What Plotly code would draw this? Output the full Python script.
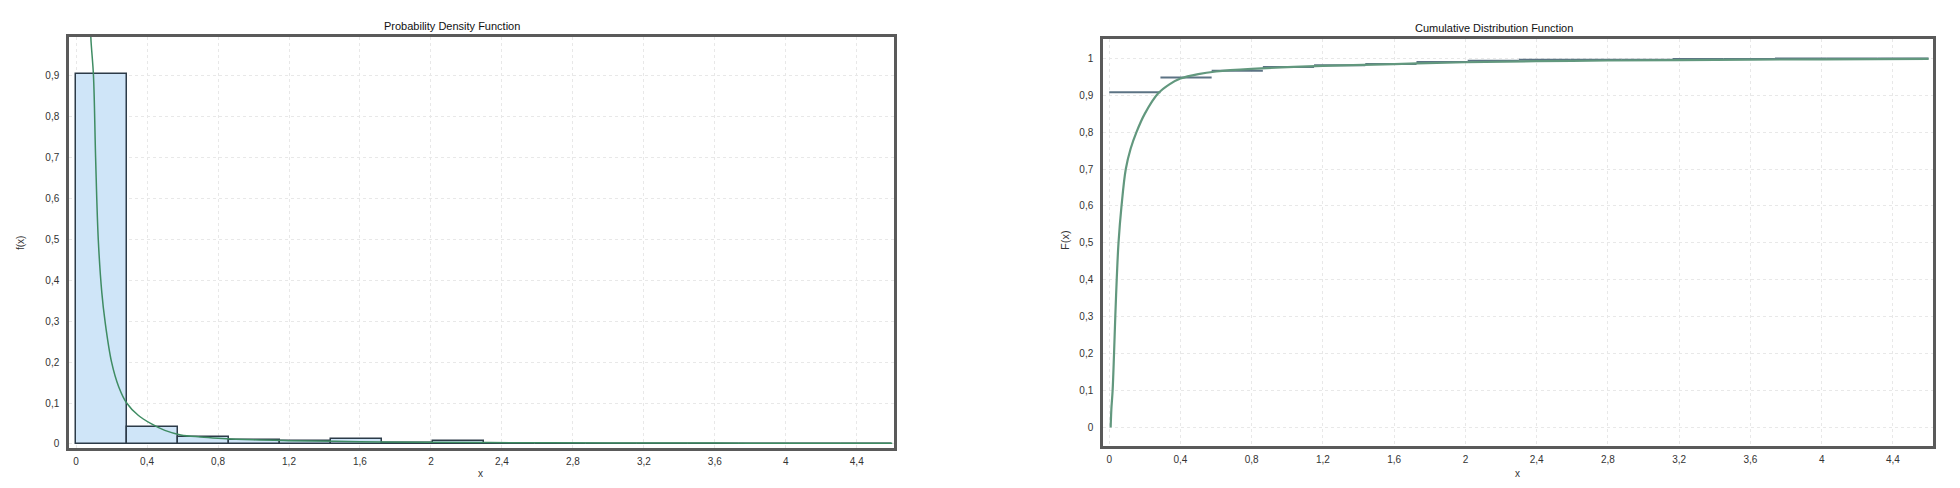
import plotly.graph_objects as go

# histogram bins (relative frequency per bin)
bin_edges = [0, 0.2875, 0.575, 0.8625, 1.15, 1.4375, 1.725, 2.0125, 2.3,
             2.5875, 2.875, 3.1625, 3.45, 3.7375, 4.025, 4.3125, 4.6]
bin_freq = [0.905, 0.041, 0.018, 0.009, 0.006, 0.011, 0.002, 0.007,
            0.0, 0.0, 0.0, 0.001, 0.0, 0.0, 0.0, 0.0]

# fitted density curve
pdf_x = [0.078, 0.083, 0.098, 0.110, 0.125, 0.145, 0.163, 0.20, 0.24, 0.285,
         0.35, 0.42, 0.50, 0.59, 0.70, 0.80, 1.0, 1.2, 1.6, 2.0, 2.5, 3.0,
         3.6, 4.0, 4.6]
pdf_y = [1.10, 0.995, 0.90, 0.70, 0.50, 0.37, 0.30, 0.20, 0.14, 0.10,
         0.07, 0.05, 0.033, 0.022, 0.017, 0.014, 0.010, 0.008, 0.0055, 0.004,
         0.003, 0.0025, 0.002, 0.0017, 0.0014]

# empirical CDF level on each bin
ecdf_level = [0.908, 0.948, 0.966, 0.976, 0.981, 0.984, 0.990, 0.993,
              0.996, 0.996, 0.996, 0.998, 0.998, 0.999, 0.999, 0.999]

# fitted cumulative curve
cdf_x = [0.008, 0.012, 0.019, 0.027, 0.034, 0.042, 0.052, 0.069, 0.093, 0.12,
         0.153, 0.20, 0.275, 0.34, 0.40, 0.50, 0.60, 0.80, 1.2, 1.6, 2.0,
         2.6, 3.2, 4.0, 4.6]
cdf_y = [0.0, 0.05, 0.10, 0.20, 0.30, 0.40, 0.50, 0.60, 0.70, 0.755,
         0.80, 0.85, 0.905, 0.93, 0.945, 0.957, 0.964, 0.971, 0.979, 0.984, 0.989,
         0.993, 0.995, 0.997, 0.998]

x_ticks = [0, 0.4, 0.8, 1.2, 1.6, 2, 2.4, 2.8, 3.2, 3.6, 4, 4.4]

FONT = "Liberation Sans"
BORDER = "#5a5a5a"
W, H = 1960, 488

fig = go.Figure()

widths = [bin_edges[i + 1] - bin_edges[i] for i in range(len(bin_freq))]
fig.add_trace(go.Bar(
    x=bin_edges[:-1], y=bin_freq, width=widths, offset=0,
    marker=dict(color="#cfe5f8", line=dict(color="#2c3b48", width=1.5)),
    xaxis="x", yaxis="y", showlegend=False
))
fig.add_trace(go.Scatter(
    x=pdf_x, y=pdf_y, mode="lines", line=dict(color="#3f8c63", width=1.5, shape="spline"),
    xaxis="x", yaxis="y", showlegend=False
))

# empirical cdf as horizontal segments
ex, ey = [], []
for i, lvl in enumerate(ecdf_level):
    ex += [bin_edges[i], bin_edges[i + 1], None]
    ey += [lvl, lvl, None]
fig.add_trace(go.Scatter(
    x=ex, y=ey, mode="lines", line=dict(color="#5c7384", width=2),
    xaxis="x2", yaxis="y2", showlegend=False
))
fig.add_trace(go.Scatter(
    x=cdf_x, y=cdf_y, mode="lines", line=dict(color="#62987e", width=2.2, shape="spline"),
    xaxis="x2", yaxis="y2", showlegend=False
))

axis_common = dict(
    showline=True, mirror=True, linecolor=BORDER, linewidth=2.5,
    showgrid=True, gridcolor="#e8e8e8", griddash="dot", gridwidth=1,
    zeroline=False, ticks="", tickformat="~g",
    tickfont=dict(family=FONT, size=10, color="#333333"),
)


def label(text, px, py, size=10, angle=0, color="#333333"):
    return dict(text=text, x=px / W, y=1 - py / H, xref="paper", yref="paper",
                xanchor="center", yanchor="middle", showarrow=False, textangle=angle,
                font=dict(family=FONT, size=size, color=color))


fig.update_layout(
    width=W, height=H,
    margin=dict(l=0, r=0, t=0, b=0),
    paper_bgcolor="white", plot_bgcolor="white",
    separators=",.",
    bargap=0,
    xaxis=dict(domain=[69 / W, 894 / W], range=[-0.04, 4.61], tickvals=x_ticks,
               ticklabelstandoff=2, **axis_common),
    yaxis=dict(domain=[1 - 448 / H, 1 - 37 / H], range=[-0.01, 0.995], dtick=0.1,
               anchor="x", ticklabelstandoff=5, **axis_common),
    xaxis2=dict(domain=[1103 / W, 1933 / W], range=[-0.035, 4.625], tickvals=x_ticks,
                anchor="y2", ticklabelstandoff=2, **axis_common),
    yaxis2=dict(domain=[1 - 446 / H, 1 - 39 / H], range=[-0.05, 1.052], dtick=0.1,
                anchor="x2", ticklabelstandoff=5, **axis_common),
    annotations=[
        label("Probability Density Function", 452, 26, size=11, color="#111111"),
        label("Cumulative Distribution Function", 1494, 28, size=11, color="#111111"),
        label("f(x)", 20, 243, angle=-90),
        label("F(x)", 1065, 240, size=11, angle=-90),
        label("x", 480, 473),
        label("x", 1517, 473),
    ],
)

fig.write_html("out.html", config={"displayModeBar": False},
               post_script="document.body.style.margin='0';")
